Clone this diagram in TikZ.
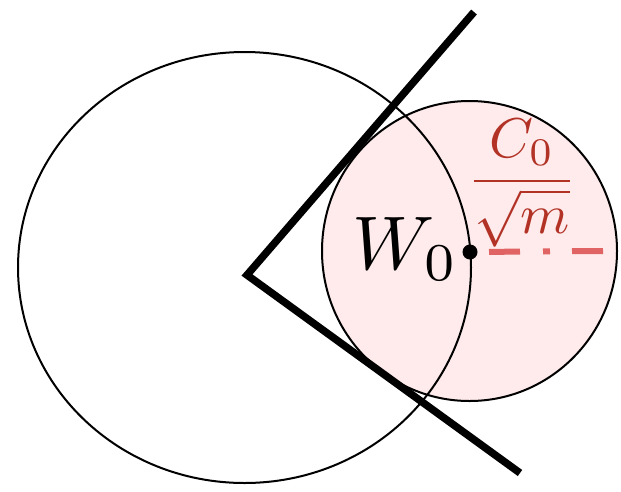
\documentclass[tikz,border=0pt]{standalone}
\usepackage{amsmath}
\definecolor{pinkfill}{RGB}{255,235,235}
\definecolor{fraccol}{RGB}{178,50,38}
\definecolor{dashcol}{RGB}{225,100,100}
\tikzset{
  thinline/.style={line width=2pt, black},
  wedgeline/.style={line width=7.5pt, black, line join=miter},
  ptdot/.style={circle, fill=black, inner sep=0pt, minimum size=15pt},
}
\begin{document}
\begin{tikzpicture}[x=1pt,y=-1pt]
\useasboundingbox (0,0) rectangle (621,491);
% small circle fill
\fill[pinkfill] (469.5,251) ellipse [x radius=147.5, y radius=150];
% big circle
\draw[thinline] (244.5,267.5) ellipse [x radius=226.5, y radius=215.5];
% small circle outline
\draw[thinline] (469.5,251) ellipse [x radius=147.5, y radius=150];
% wedge
\coordinate (top) at (474,12);
\coordinate (apex) at (247,275);
\coordinate (bot) at (520,473);
\draw[wedgeline] (top) -- (apex) -- (bot);
% point W0
\node[ptdot] (w) at (470,252) {};
\coordinate (dend) at (603,251);
\draw[dashcol, line width=6pt, dash pattern=on 31pt off 23pt on 7pt off 22pt on 40pt, shorten <=19pt] (w.center) -- (dend);
\node[anchor=base west, inner sep=0pt, scale=7.6] (wl) at (351,269) {$W_0$};
\node[anchor=base, inner sep=0pt, text=fraccol, scale=5.6] (frac) at (522,195) {$\dfrac{C_0}{\sqrt{m}}$};
\end{tikzpicture}
\end{document}
